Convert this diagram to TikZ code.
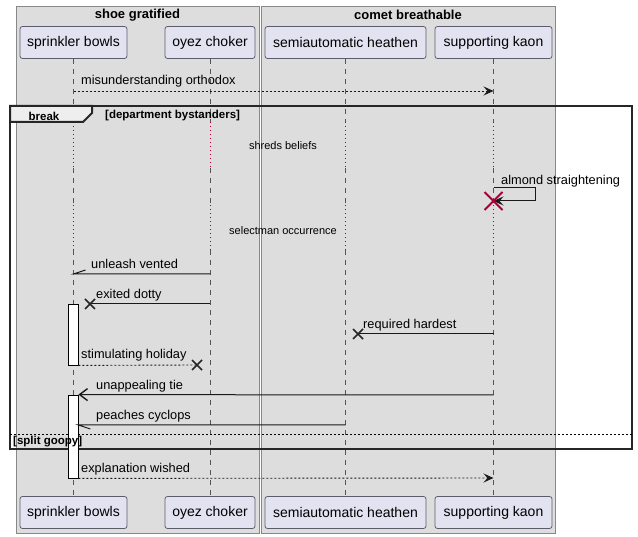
\documentclass[tikz,border=0pt]{standalone}
\usepackage{fontspec}
\setmainfont{Liberation Sans}
\usetikzlibrary{arrows.meta,calc}
\definecolor{boxbg}{HTML}{DDDDDD}
\definecolor{boxline}{HTML}{888888}
\definecolor{partfill}{HTML}{E2E2F0}
\definecolor{partline}{HTML}{5B5B6B}
\definecolor{lifeline}{HTML}{555555}
\definecolor{delayred}{HTML}{A80036}
\definecolor{tabfill}{HTML}{EEEEEE}
\tikzset{
  grp/.style={draw=boxline, fill=boxbg, line width=0.8},
  grptitle/.style={font=\bfseries\fontsize{13}{15}\selectfont, inner sep=0},
  part/.style={draw=partline, fill=partfill, rounded corners=2.5, line width=0.8,
    minimum height=32, inner sep=0, font=\fontsize{14}{16}\selectfont},
  life/.style={draw=lifeline, dash pattern=on 5 off 5, line width=0.6},
  delay/.style={draw=delayred, dash pattern=on 1 off 3, line width=0.8},
  msg/.style={draw=black!90, line width=1},
  rmsg/.style={draw=black!90, line width=0.9, dash pattern=on 2 off 2},
  lbl/.style={font=\fontsize{12.8}{14}\selectfont, inner sep=0, anchor=base west},
  note/.style={font=\fontsize{11}{13}\selectfont, inner sep=0},
  fill arrow/.style={-{Stealth[length=10,width=9,inset=4]}},
  open arrow/.style={-{Straight Barb[length=8,width=12,line width=1.4]}},
  xmark/.style={line width=1.6, draw=black!85},
  rxmark/.style={line width=1.8, draw=delayred},
  act/.style={draw=black, fill=white, line width=0.8},
  frm/.style={draw=black!85, line width=2},
  frmlbl/.style={font=\bfseries\fontsize{11.5}{13}\selectfont, inner sep=0}
}
\begin{document}
\begin{tikzpicture}[x=1pt,y=-1pt]
\useasboundingbox (0,0) rectangle (638,537);
\fill[white] (0,0) rectangle (638,537);

% group boxes
\draw[grp] (16,6) rectangle (259,533);
\node[grptitle] (g1) at (137.5,15) {shoe gratified};
\draw[grp] (261,6) rectangle (555,533);
\node[grptitle] (g2) at (408,15) {comet breathable};

% participants
\node[part, minimum width=107] (sbT) at (73.5,42.5) {sprinkler bowls};
\node[part, minimum width=90]  (ocT) at (210,42.5) {oyez choker};
\node[part, minimum width=161] (shT) at (345.5,42.5) {semiautomatic heathen};
\node[part, minimum width=117] (skT) at (493.5,42.5) {supporting kaon};
\node[part, minimum width=107] (sbB) at (73.5,512.5) {sprinkler bowls};
\node[part, minimum width=90]  (ocB) at (210,512.5) {oyez choker};
\node[part, minimum width=161] (shB) at (345.5,512.5) {semiautomatic heathen};
\node[part, minimum width=117] (skB) at (493.5,512.5) {supporting kaon};

% lifelines with delays
\foreach \p in {sb,oc,sh,sk}{
  \draw[life] (\p T.south) -- (\p T.south |- 0,122);
  \draw[delay] (\p T.south |- 0,122) -- (\p T.south |- 0,168);
  \draw[life] (\p T.south |- 0,168) -- (\p T.south |- 0,205);
  \draw[delay] (\p T.south |- 0,205) -- (\p T.south |- 0,250);
  \draw[life] (\p T.south |- 0,250) -- (\p B.north);
}
\node[note] (d1) at (283,146) {shreds beliefs};
\node[note] (d2) at (283,231) {selectman occurrence};

% break frame
\draw[frm] (10,106) rectangle (632,449);
\draw[frm, fill=tabfill] (10,106) -- (92,106) -- (92,113) -- (83,122) -- (10,122) -- cycle;
\node[frmlbl] (brk) at (44,116) {break};
\node[frmlbl, anchor=west] (cond1) at (105,116) {[department bystanders]};
\draw[black, line width=0.6, dash pattern=on 2 off 2] (10,434) -- (632,434);

% activation bars
\node[act, minimum width=10, minimum height=61, inner sep=0] (a1) at (73,334.5) {};
\node[act, minimum width=10, minimum height=83, inner sep=0] (a2) at (73,436.5) {};

\node[frmlbl, anchor=west] (cond2) at (13,442) {[split goopy]};

% message 1
\draw[rmsg, fill arrow] (sbT.south |- 0,91) -- (skT.south |- 0,91);
\node[lbl] (m1) at (81,85) {misunderstanding orthodox};

% self message with destroy
\coordinate (sk1) at (skT.south |- 0,188);
\coordinate (sk2) at (skT.south |- 0,201);
\draw[msg, fill arrow] (sk1) -- (535,188) -- (535,201) -- (sk2);
\node[lbl] (m2) at (501,185) {almond straightening};
\draw[rxmark] ($(sk2)+(-9,-9)$) -- ($(sk2)+(9,9)$);
\draw[rxmark] ($(sk2)+(-9,9)$) -- ($(sk2)+(9,-9)$);

% unleash vented (half arrow)
\coordinate (uv) at (sbT.south |- 0,274);
\draw[msg] (ocT.south |- 0,274) -- (uv) -- ++(12,-4);
\node[lbl] (m3) at (91,269) {unleash vented};

% exited dotty -> lost X
\coordinate (x1) at (90,304);
\draw[msg] (ocT.south |- 0,304) -- (x1);
\draw[xmark] ($(x1)+(-5,-5)$) -- ($(x1)+(5,5)$);
\draw[xmark] ($(x1)+(-5,5)$) -- ($(x1)+(5,-5)$);
\node[lbl] (m4) at (96,299) {exited dotty};

% required hardest
\coordinate (x2) at (358,334);
\draw[msg] (skT.south |- 0,334) -- (x2);
\draw[xmark] ($(x2)+(-5,-5)$) -- ($(x2)+(5,5)$);
\draw[xmark] ($(x2)+(-5,5)$) -- ($(x2)+(5,-5)$);
\node[lbl] (m5) at (363,329) {required hardest};

% stimulating holiday
\coordinate (x3) at (197,365);
\draw[rmsg] (a1.south east) -- (x3);
\draw[xmark] ($(x3)+(-5,-5)$) -- ($(x3)+(5,5)$);
\draw[xmark] ($(x3)+(-5,5)$) -- ($(x3)+(5,-5)$);
\node[lbl] (m6) at (81,359) {stimulating holiday};

% unappealing tie
\draw[msg, open arrow] (skT.south |- 0,395) -- (a2.north east);
\node[lbl] (m7) at (96,390) {unappealing tie};

% peaches cyclops (half arrow)
\coordinate (pc) at (a2.east |- 0,425);
\draw[msg] (shT.south |- 0,425) -- (pc) -- ++(12,4);
\node[lbl] (m8) at (96,420) {peaches cyclops};

% explanation wished
\draw[rmsg, fill arrow] (a2.south east) -- (skT.south |- 0,478);
\node[lbl] (m9) at (81,473) {explanation wished};
\end{tikzpicture}
\end{document}
